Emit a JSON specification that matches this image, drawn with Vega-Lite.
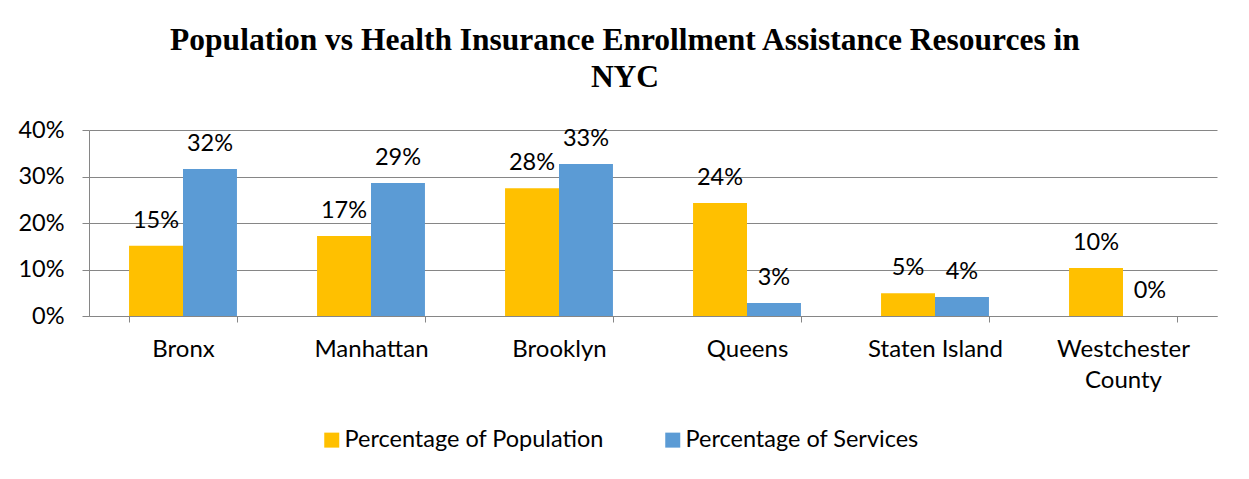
{
  "$schema": "https://vega.github.io/schema/vega-lite/v6.json",
  "autosize": "none",
  "width": 1128,
  "height": 186,
  "padding": {"left": 89, "top": 130, "right": 32, "bottom": 163},
  "background": "white",
  "title": {
    "text": ["Population vs Health Insurance Enrollment Assistance Resources in", "NYC"],
    "font": "Liberation Serif",
    "fontSize": 31.5,
    "fontWeight": "bold",
    "color": "#000000",
    "anchor": "middle",
    "frame": "group",
    "offset": 25,
    "lineHeight": 37,
    "dx": -28
  },
  "data": {
    "values": [
      {"borough": "Bronx", "series": "Percentage of Population", "value": 0.151},
      {"borough": "Bronx", "series": "Percentage of Services", "value": 0.316},
      {"borough": "Manhattan", "series": "Percentage of Population", "value": 0.172},
      {"borough": "Manhattan", "series": "Percentage of Services", "value": 0.286},
      {"borough": "Brooklyn", "series": "Percentage of Population", "value": 0.275},
      {"borough": "Brooklyn", "series": "Percentage of Services", "value": 0.327},
      {"borough": "Queens", "series": "Percentage of Population", "value": 0.243},
      {"borough": "Queens", "series": "Percentage of Services", "value": 0.028},
      {"borough": "Staten Island", "series": "Percentage of Population", "value": 0.049},
      {"borough": "Staten Island", "series": "Percentage of Services", "value": 0.041},
      {"borough": "Westchester County", "series": "Percentage of Population", "value": 0.103},
      {"borough": "Westchester County", "series": "Percentage of Services", "value": 0.0}
    ]
  },
  "encoding": {
    "x": {
      "field": "borough",
      "type": "nominal",
      "sort": null,
      "scale": {"paddingInner": 0.426, "paddingOuter": 0.213},
      "axis": {
        "title": null,
        "labelAngle": 0,
        "labelFont": "Lato",
        "labelFontSize": 24,
        "labelColor": "#000000",
        "labelPadding": 15,
        "labelLineHeight": 31.5,
        "labelLimit": 400,
        "labelExpr": "datum.label == 'Westchester County' ? ['Westchester', 'County'] : datum.label",
        "domainColor": "#868686",
        "tickColor": "#868686",
        "tickBand": "extent",
        "tickSize": 6,
        "grid": false
      }
    },
    "xOffset": {"field": "series", "type": "nominal", "sort": null},
    "y": {
      "field": "value",
      "type": "quantitative",
      "scale": {"domain": [0, 0.4]},
      "axis": {
        "title": null,
        "format": ".0%",
        "values": [0, 0.1, 0.2, 0.3, 0.4],
        "labelFont": "Lato",
        "labelFontSize": 23.5,
        "labelColor": "#000000",
        "labelPadding": 18,
        "domainColor": "#868686",
        "tickColor": "#868686",
        "tickSize": 7,
        "gridColor": "#868686",
        "gridWidth": 1
      }
    },
    "color": {
      "field": "series",
      "type": "nominal",
      "sort": null,
      "scale": {"range": ["#FFC000", "#5B9BD5"]},
      "legend": {
        "title": null,
        "orient": "none",
        "legendX": 231,
        "legendY": 298,
        "direction": "horizontal",
        "symbolType": "square",
        "symbolSize": 225,
        "symbolStrokeWidth": 0,
        "labelFont": "Lato",
        "labelFontSize": 23.5,
        "labelColor": "#000000",
        "labelLimit": 400,
        "columnPadding": 57,
        "labelOffset": 1
      }
    }
  },
  "layer": [
    {"mark": {"type": "bar"}},
    {
      "mark": {"type": "text", "font": "Lato", "fontSize": 23.5, "color": "#000000", "baseline": "alphabetic", "dy": -18},
      "encoding": {
        "text": {"field": "value", "type": "quantitative", "format": ".0%"},
        "color": {"value": "#000000"}
      }
    }
  ],
  "config": {"view": {"stroke": null}}
}
